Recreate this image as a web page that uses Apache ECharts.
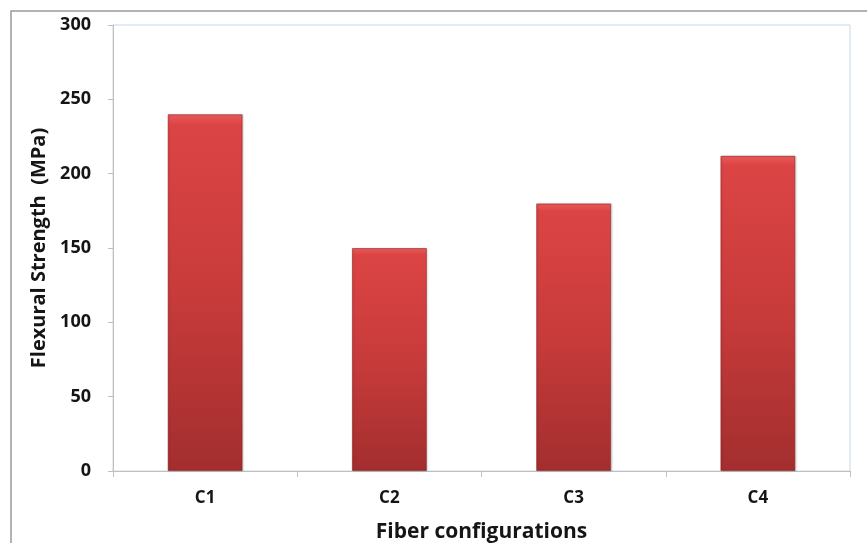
<!DOCTYPE html>
<html>
<head>
<meta charset="utf-8">
<script src="https://cdn.jsdelivr.net/npm/echarts@6/dist/echarts.min.js"></script>
<style>
  html, body { margin: 0; padding: 0; background: #fff; }
  #chart { width: 867px; height: 543px; }
</style>
</head>
<body>
<div id="chart"></div>
<script>
// Flexural strength per fiber configuration
const categories = ['C1', 'C2', 'C3', 'C4'];
const strengthMPa = [240, 150, 180, 212];
const yTicks = [0, 50, 100, 150, 200, 250, 300];

const FONT = '"Open Sans", Lato, sans-serif';
const chart = echarts.init(document.getElementById('chart'), null, { renderer: 'canvas' });

const barFill = new echarts.graphic.LinearGradient(0, 0, 0, 1, [
  { offset: 0, color: '#ea5a5a' },
  { offset: 0.03, color: '#dc4444' },
  { offset: 0.5, color: '#c83b3b' },
  { offset: 1, color: '#a32e2e' }
]);

chart.setOption({
  animation: false,
  backgroundColor: '#ffffff',
  graphic: [
    {
      type: 'polyline',
      shape: { points: [[11, 543], [11, 11], [867, 11]] },
      style: { stroke: '#9a9a9a', lineWidth: 1.5, fill: null },
      silent: true
    }
  ],
  grid: {
    left: 113, top: 25, right: 17, bottom: 72,
    outerBoundsMode: 'none',
    containLabel: false,
    show: true, borderColor: '#c6d6ea', borderWidth: 1, backgroundColor: 'transparent'
  },
  xAxis: {
    type: 'category',
    data: categories,
    name: 'Fiber configurations',
    nameLocation: 'middle',
    nameGap: 51,
    nameTextStyle: { fontFamily: FONT, fontWeight: 'bold', fontSize: 21, color: '#151515' },
    axisLine: { lineStyle: { color: '#c0c0c0', width: 1 } },
    axisTick: { show: true, length: 6, alignWithLabel: false, lineStyle: { color: '#c0c0c0' } },
    axisLabel: { fontFamily: FONT, fontWeight: 'bold', fontSize: 17, color: '#151515', margin: 19 }
  },
  yAxis: {
    type: 'value',
    min: yTicks[0],
    max: yTicks[yTicks.length - 1],
    interval: 50,
    name: 'Flexural Strength  (MPa)',
    nameLocation: 'middle',
    nameGap: 62,
    nameTextStyle: { fontFamily: FONT, fontWeight: 'bold', fontSize: 20, color: '#151515' },
    axisLine: { show: true, lineStyle: { color: '#c0c0c0', width: 1 } },
    axisTick: { show: true, length: 5, lineStyle: { color: '#c0c0c0' } },
    splitLine: { show: false },
    axisLabel: { fontFamily: FONT, fontWeight: 'bold', fontSize: 18, color: '#151515', margin: 22 }
  },
  series: [
    {
      type: 'bar',
      data: strengthMPa,
      barWidth: 75,
      itemStyle: {
        color: barFill,
        borderColor: 'rgba(140,30,30,0.55)',
        borderWidth: 1,
        shadowColor: 'rgba(0,0,0,0.18)',
        shadowBlur: 2,
        shadowOffsetX: 1,
        shadowOffsetY: 0
      }
    }
  ]
});
</script>
</body>
</html>
